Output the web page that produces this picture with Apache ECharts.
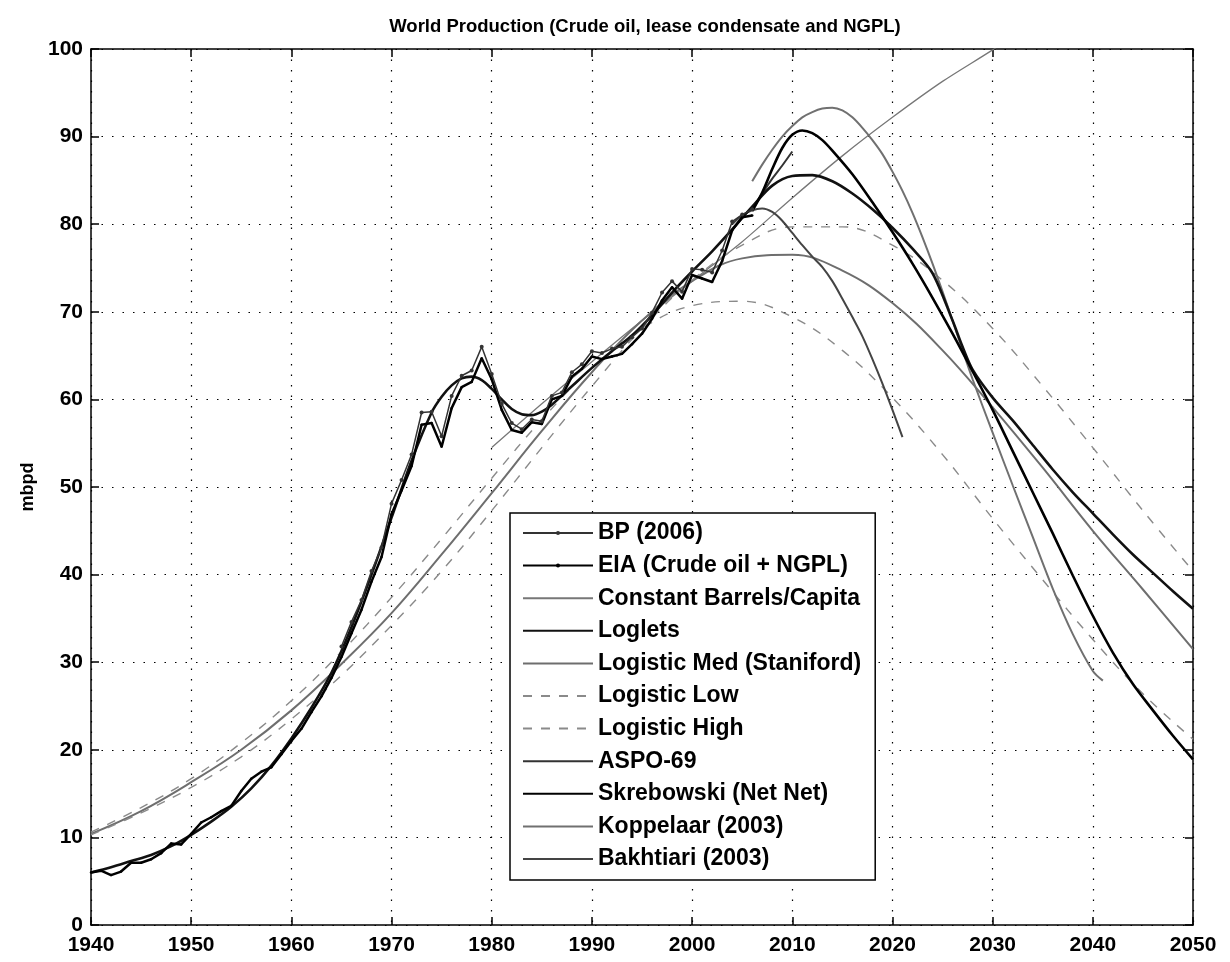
<!DOCTYPE html>
<html>
<head>
<meta charset="utf-8">
<script src="https://cdn.jsdelivr.net/npm/echarts@6/dist/echarts.min.js"></script>
<style>
html,body{margin:0;padding:0;background:#fff;}
#chart{width:1230px;height:962px;}
</style>
</head>
<body>
<div id="chart"></div>
<script>
// ---------- data ----------
const titleText = 'World Production (Crude oil, lease condensate and NGPL)';
const yAxisName = 'mbpd';
const xTicks = [1940, 1950, 1960, 1970, 1980, 1990, 2000, 2010, 2020, 2030, 2040, 2050];
const yTicks = [0, 10, 20, 30, 40, 50, 60, 70, 80, 90, 100];

// BP (2006): annual, 1965-2006
const bpStart = 1965;
const bpValues = [31.8, 34.6, 37.1, 40.4, 43.1, 48.1, 50.8, 53.7, 58.5, 58.6, 55.8, 60.4, 62.7, 63.3, 66.0,
  62.9, 59.5, 57.3, 56.6, 57.7, 57.5, 60.4, 60.8, 63.1, 64.0, 65.5, 65.3, 65.8, 66.0, 67.1,
  68.1, 69.9, 72.2, 73.5, 72.3, 74.9, 74.8, 74.5, 77.0, 80.3, 81.1, 81.7];

// EIA (Crude oil + NGPL): annual, 1940-2006
const eiaStart = 1940;
const eiaValues = [6.0, 6.2, 5.7, 6.1, 7.1, 7.1, 7.5, 8.2, 9.3, 9.2,
  10.4, 11.7, 12.3, 13.0, 13.6, 15.3, 16.7, 17.5, 18.0, 19.5,
  21.0, 22.4, 24.3, 26.1, 28.2, 30.6, 33.3, 36.0, 39.2, 42.0,
  46.9, 49.6, 52.4, 57.1, 57.3, 54.6, 59.0, 61.4, 62.0, 64.7,
  62.3, 58.8, 56.5, 56.2, 57.4, 57.2, 60.0, 60.4, 62.6, 63.5,
  64.9, 64.6, 64.9, 65.2, 66.3, 67.5, 69.2, 71.3, 72.8, 71.5,
  74.2, 73.8, 73.4, 75.8, 79.3, 80.8, 81.0];

// Constant Barrels/Capita
const cbcYears  = [1980, 1985, 1990, 1995, 2000, 2005, 2010, 2015, 2020, 2025, 2030, 2032];
const cbcValues = [54.5, 59.5, 64.3, 69.0, 73.5, 78.0, 83.0, 87.8, 92.2, 96.3, 99.9, 101.5];

// Loglets
const logletYears  = [1940, 1942, 1944, 1946, 1948, 1950, 1952, 1954, 1956, 1958, 1960, 1962, 1964, 1966, 1968,
  1970, 1972, 1974, 1975, 1976, 1977, 1978, 1979, 1980, 1981, 1982, 1983, 1984, 1985, 1986, 1988,
  1990, 1992, 1994, 1996, 1998, 2000, 2002, 2004, 2006, 2008, 2010, 2012, 2014, 2016, 2018,
  2020, 2022, 2024, 2026, 2027, 2028, 2030, 2032, 2034, 2036, 2038, 2040, 2042, 2044, 2046, 2048, 2050];
const logletValues = [6.0, 6.6, 7.3, 8.0, 9.0, 10.3, 11.8, 13.5, 15.6, 18.2, 21.3, 24.8, 28.8, 34.0, 40.0,
  46.5, 53.0, 58.5, 60.3, 61.6, 62.4, 62.6, 62.2, 61.2, 60.0, 58.9, 58.3, 58.2, 58.6, 59.4, 61.5,
  63.6, 65.5, 67.3, 69.6, 72.2, 74.6, 76.9, 79.4, 82.0, 84.4, 85.5, 85.6, 84.9, 83.5, 81.7,
  79.6, 77.2, 74.4, 69.0, 66.0, 63.4, 60.2, 57.6, 54.8, 52.0, 49.4, 47.0, 44.6, 42.3, 40.2, 38.1, 36.1];

// Logistic curves
const logisticYears = [1940, 1945, 1950, 1955, 1960, 1965, 1970, 1975, 1980, 1985, 1990, 1995, 2000,
  2005, 2010, 2015, 2020, 2025, 2030, 2035, 2040, 2045, 2050];
const logMedValues  = [10.4, 13.0, 16.3, 20.0, 24.5, 29.8, 35.6, 42.3, 49.3, 56.4, 63.1, 69.0, 73.5,
  76.1, 76.5, 74.7, 71.0, 65.6, 59.1, 52.2, 45.0, 38.3, 31.5];
const logLowValues  = [10.6, 13.4, 16.7, 20.8, 25.6, 31.2, 37.4, 44.1, 51.0, 57.7, 63.6, 68.1, 70.7,
  71.2, 69.4, 65.6, 60.2, 53.7, 46.4, 39.4, 32.6, 26.4, 21.2];
const logHighValues = [10.3, 12.8, 15.7, 19.2, 23.5, 28.5, 34.2, 40.4, 47.3, 54.5, 61.5, 68.1, 73.6,
  77.6, 79.7, 79.7, 77.6, 73.6, 68.1, 61.5, 54.5, 47.3, 40.4];

// ASPO-69
const aspoYears  = [2006, 2007, 2008, 2009, 2010];
const aspoValues = [81.8, 83.5, 85.2, 86.7, 88.3];

// Skrebowski (Net Net)
const skrYears  = [2006, 2007, 2008, 2009, 2010, 2011, 2012, 2013, 2014, 2016, 2018, 2020, 2022, 2024, 2026,
  2028, 2030, 2032, 2034, 2036, 2038, 2040, 2042, 2044, 2046, 2048, 2050];
const skrValues = [81.5, 83.6, 86.3, 88.7, 90.2, 90.7, 90.4, 89.6, 88.4, 85.7, 82.5, 79.1, 75.5, 71.6, 67.5,
  63.2, 58.8, 54.1, 49.4, 44.7, 39.9, 35.3, 31.1, 27.5, 24.5, 21.6, 18.9];

// Koppelaar (2003)
const kopYears  = [2006, 2007, 2008, 2009, 2010, 2011, 2012, 2013, 2014, 2015, 2016, 2017, 2018, 2019, 2020,
  2021, 2022, 2023, 2024, 2025, 2026, 2027, 2028, 2030, 2032, 2034, 2036, 2038, 2040, 2041];
const kopValues = [84.9, 86.8, 88.5, 90.0, 91.2, 92.2, 92.8, 93.2, 93.3, 93.0, 92.2, 91.0, 89.6, 88.0, 86.0,
  83.8, 81.3, 78.5, 75.5, 72.3, 69.0, 65.6, 62.3, 56.2, 50.2, 44.3, 38.4, 33.2, 29.0, 27.9];

// Bakhtiari (2003)
const bakYears  = [2004, 2005, 2006, 2007, 2008, 2009, 2010, 2011, 2012, 2013, 2014, 2015, 2016, 2017, 2018,
  2019, 2020, 2021];
const bakValues = [80.0, 81.0, 81.6, 81.8, 81.4, 80.4, 79.0, 77.6, 76.3, 75.1, 73.5, 71.5, 69.4, 67.2, 64.6,
  61.8, 58.8, 55.7];

// ---------- helpers ----------
function annual(start, vals) { return vals.map((v, i) => [start + i, v]); }
function pairs(xs, ys) { return xs.map((x, i) => [x, ys[i]]); }

const chart = echarts.init(document.getElementById('chart'), null, {renderer: 'canvas'});
const FONT = '"Liberation Sans", Arial, Helvetica, sans-serif';

function lineSeries(name, data, color, width, opts) {
  return Object.assign({
    name: name, type: 'line', data: data, showSymbol: false, symbol: 'none',
    lineStyle: {color: color, width: width}, itemStyle: {color: color},
    smooth: false, animation: false, clip: true, z: 3
  }, opts || {});
}

const dashed = [9, 9];
const series = [
  lineSeries('BP (2006)', annual(bpStart, bpValues), '#333', 1.5,
    {symbol: 'circle', symbolSize: 4, showSymbol: true, z: 6}),
  lineSeries('EIA (Crude oil + NGPL)', annual(eiaStart, eiaValues), '#000', 2.5,
    {symbol: 'circle', symbolSize: 2.5, showSymbol: true, z: 5}),
  lineSeries('Constant Barrels/Capita', pairs(cbcYears, cbcValues), '#777', 1.3, {smooth: 0.3}),
  lineSeries('Loglets', pairs(logletYears, logletValues), '#111', 2.6, {smooth: 0.3, z: 4}),
  lineSeries('Logistic Med (Staniford)', pairs(logisticYears, logMedValues), '#6e6e6e', 2, {smooth: 0.4}),
  lineSeries('Logistic Low', pairs(logisticYears, logLowValues), '#8a8a8a', 1.4,
    {smooth: 0.4, lineStyle: {color: '#8a8a8a', width: 1.4, type: dashed}}),
  lineSeries('Logistic High', pairs(logisticYears, logHighValues), '#8a8a8a', 1.4,
    {smooth: 0.4, lineStyle: {color: '#8a8a8a', width: 1.4, type: dashed}}),
  lineSeries('ASPO-69', pairs(aspoYears, aspoValues), '#333', 2, {smooth: 0.3}),
  lineSeries('Skrebowski (Net Net)', pairs(skrYears, skrValues), '#000', 2.6, {smooth: 0.3, z: 4}),
  lineSeries('Koppelaar (2003)', pairs(kopYears, kopValues), '#707070', 2, {smooth: 0.3}),
  lineSeries('Bakhtiari (2003)', pairs(bakYears, bakValues), '#444', 2, {smooth: 0.3})
];

// legend entries: only the two historical series show a marker in the key
const legendData = series.map(s => (s.showSymbol
  ? {name: s.name}
  : {name: s.name, itemStyle: {opacity: 0}}));

const axisCommonX = {
  type: 'value', min: xTicks[0], max: xTicks[xTicks.length - 1], interval: 10,
  axisLine: {show: true, onZero: false, lineStyle: {color: '#000', width: 1.5}},
  axisTick: {show: true, inside: true, length: 8, lineStyle: {color: '#000', width: 1.5}}
};
const axisCommonY = {
  type: 'value', min: yTicks[0], max: yTicks[yTicks.length - 1], interval: 10,
  axisLine: {show: true, onZero: false, lineStyle: {color: '#000', width: 1.5}},
  axisTick: {show: true, inside: true, length: 8, lineStyle: {color: '#000', width: 1.5}}
};

chart.setOption({
  backgroundColor: '#fff',
  animation: false,
  title: {
    text: titleText, left: 640, top: 12, textAlign: 'center',
    textStyle: {fontFamily: FONT, fontSize: 18.5, fontWeight: 'bold', color: '#000'}
  },
  grid: {left: 91, right: 37, top: 49, bottom: 37, containLabel: false},
  xAxis: [
    Object.assign({}, axisCommonX, {
      position: 'bottom',
      axisLabel: {show: true, margin: 10, fontFamily: FONT, fontSize: 21, fontWeight: 'bold', color: '#000',
        formatter: v => String(v)},
      splitLine: {show: true, lineStyle: {color: '#000', width: 1.2, type: [1.5, 9]}}
    }),
    Object.assign({}, axisCommonX, {
      position: 'top', axisLabel: {show: false}, splitLine: {show: false}
    })
  ],
  yAxis: [
    Object.assign({}, axisCommonY, {
      position: 'left',
      name: yAxisName, nameLocation: 'middle', nameGap: 54, nameRotate: 90,
      nameTextStyle: {fontFamily: FONT, fontSize: 18, fontWeight: 'bold', color: '#000'},
      axisLabel: {show: true, margin: 8, fontFamily: FONT, fontSize: 21, fontWeight: 'bold', color: '#000',
        formatter: v => String(v)},
      splitLine: {show: true, lineStyle: {color: '#000', width: 1.2, type: [1.5, 9]}}
    }),
    Object.assign({}, axisCommonY, {
      position: 'right', axisLabel: {show: false}, splitLine: {show: false}
    })
  ],
  legend: {
    show: true, orient: 'vertical', left: 510, top: 513,
    backgroundColor: '#fff', borderColor: '#000', borderWidth: 1.5,
    padding: [8, 14, 9, 12],
    itemWidth: 70, itemHeight: 5, itemGap: 8.6,
    textStyle: {fontFamily: FONT, fontSize: 23, fontWeight: 'bold', color: '#000', lineHeight: 24},
    data: legendData
  },
  series: series
});
</script>
</body>
</html>
